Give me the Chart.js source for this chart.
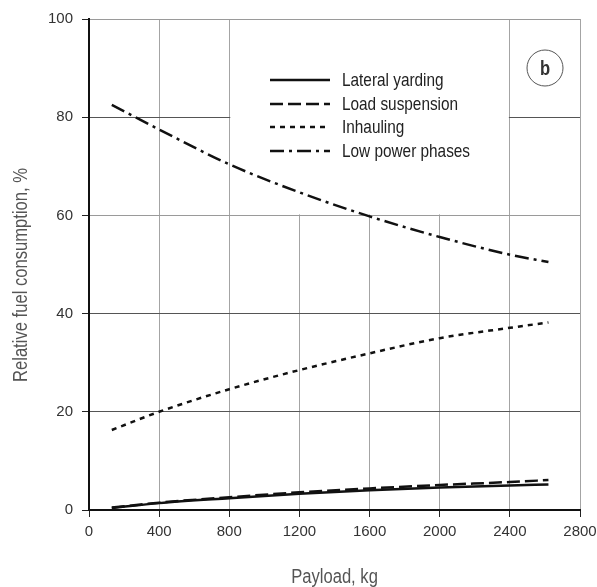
<!DOCTYPE html>
<html lang="en">
<head>
    <meta charset="UTF-8">
    <title>Relative fuel consumption vs payload</title>
    <script src="https://cdn.jsdelivr.net/npm/chart.js"></script>
    <style>
        html, body { margin: 0; padding: 0; background: #fff; }
        .chart-box { width: 597px; height: 587px; }
    </style>
</head>
<body>
    <div class="chart-box">
        <canvas id="fuelChart" width="597" height="587"></canvas>
    </div>
    <script>
        // values
        const payload = [130, 400, 800, 1200, 1600, 2000, 2400, 2620];
        const lateralYarding = [0.4, 1.4, 2.4, 3.3, 4.0, 4.6, 5.0, 5.2];
        const loadSuspension = [0.5, 1.5, 2.6, 3.6, 4.4, 5.1, 5.7, 6.1];
        const inhauling = [16.3, 20.0, 24.6, 28.5, 31.9, 35.0, 37.1, 38.2];
        const lowPowerPhases = [82.5, 77.5, 70.4, 64.7, 59.8, 55.6, 52.0, 50.5];
        const seriesNames = ['Lateral yarding', 'Load suspension', 'Inhauling', 'Low power phases'];
        const xTicks = [0, 400, 800, 1200, 1600, 2000, 2400, 2800];
        const yTicks = [0, 20, 40, 60, 80, 100];

        const FONT = "'Liberation Sans', Arial, sans-serif";
        const SQUEEZE = 0.83; // the original type is a condensed face

        function points(values) {
            return payload.map((x, i) => ({ x: x, y: values[i] }));
        }

        // narrow text: squeeze horizontally around the anchor
        function narrowText(ctx, text, x, y) {
            ctx.save();
            ctx.translate(x, y);
            ctx.scale(SQUEEZE, 1);
            ctx.fillText(text, 0, 0);
            ctx.restore();
        }

        const dashes = [[], [13, 5], [5, 5], [14, 5, 3, 5]];

        // white box with legend, the "b" badge, and axis titles
        const decorations = {
            id: 'decorations',
            beforeDatasetsDraw(chart) {
                const ctx = chart.ctx;
                const xs = chart.scales.x, ys = chart.scales.y;
                const l = xs.getPixelForValue(800) + 1;
                const r = xs.getPixelForValue(2400) - 1;
                const t = ys.getPixelForValue(100) + 1;
                const b = ys.getPixelForValue(60) - 1;
                ctx.save();
                ctx.fillStyle = '#fff';
                ctx.fillRect(l, t, r - l, b - t);

                // legend
                ctx.font = '18.5px ' + FONT;
                ctx.textBaseline = 'middle';
                ctx.fillStyle = '#222';
                const rowY = [80, 104, 127, 151];
                chart.data.datasets.forEach((ds, i) => {
                    ctx.beginPath();
                    ctx.setLineDash(ds.borderDash || []);
                    ctx.lineWidth = 2.5;
                    ctx.strokeStyle = '#111';
                    ctx.moveTo(270, rowY[i]);
                    ctx.lineTo(330, rowY[i]);
                    ctx.stroke();
                    narrowText(ctx, ds.label, 342, rowY[i] + 1);
                });
                ctx.setLineDash([]);

                // panel badge
                ctx.beginPath();
                ctx.arc(545, 68, 18, 0, Math.PI * 2);
                ctx.lineWidth = 1;
                ctx.strokeStyle = '#555';
                ctx.stroke();
                ctx.font = 'bold 20px ' + FONT;
                ctx.textAlign = 'center';
                ctx.fillStyle = '#333';
                narrowText(ctx, 'b', 545, 69);
                ctx.restore();
            },
            afterDraw(chart) {
                const ctx = chart.ctx;
                const area = chart.chartArea;
                ctx.save();
                ctx.fillStyle = '#555';
                ctx.font = '20px ' + FONT;
                ctx.textAlign = 'center';
                ctx.textBaseline = 'middle';
                narrowText(ctx, 'Payload, kg', (area.left + area.right) / 2, 577);
                ctx.translate(21, 275);
                ctx.rotate(-Math.PI / 2);
                narrowText(ctx, 'Relative fuel consumption, %', 0, 0);
                ctx.restore();
            }
        };

        const series = [lateralYarding, loadSuspension, inhauling, lowPowerPhases];

        new Chart(document.getElementById('fuelChart'), {
            type: 'line',
            data: {
                datasets: series.map((vals, i) => ({
                    label: seriesNames[i],
                    data: points(vals),
                    borderColor: '#111',
                    borderWidth: 2.5,
                    borderDash: dashes[i],
                    pointRadius: 0,
                    fill: false,
                    cubicInterpolationMode: 'monotone'
                }))
            },
            options: {
                responsive: false,
                animation: false,
                layout: { padding: { top: 19, right: 0, left: 0, bottom: 0 } },
                plugins: {
                    legend: { display: false },
                    tooltip: { enabled: false }
                },
                scales: {
                    x: {
                        type: 'linear',
                        min: 0,
                        max: 2800,
                        afterBuildTicks(scale) {
                            scale.ticks = xTicks.map(v => ({ value: v }));
                        },
                        afterFit(scale) {
                            scale.height = 77;
                            scale.paddingLeft = 0;
                            scale.paddingRight = 17;
                        },
                        border: { color: '#111', width: 2 },
                        grid: {
                            color: '#a4a4a4',
                            lineWidth: 1,
                            tickLength: 7,
                            tickColor: '#222'
                        },
                        ticks: {
                            color: '#333',
                            padding: 6,
                            maxRotation: 0,
                            callback: v => String(v),
                            font: { family: FONT, size: 15 }
                        }
                    },
                    y: {
                        min: 0,
                        max: 100,
                        afterBuildTicks(scale) {
                            scale.ticks = yTicks.map(v => ({ value: v }));
                        },
                        afterFit(scale) { scale.width = 89; },
                        border: { color: '#111', width: 2 },
                        grid: {
                            color: ctx => ctx.tick && (ctx.tick.value === 60 || ctx.tick.value === 100) ? '#9a9a9a' : '#555',
                            lineWidth: 1,
                            tickLength: 7,
                            tickColor: '#222'
                        },
                        ticks: {
                            color: '#333',
                            padding: 9,
                            callback: v => String(v),
                            font: { family: FONT, size: 15 }
                        }
                    }
                }
            },
            plugins: [decorations]
        });
    </script>
</body>
</html>
